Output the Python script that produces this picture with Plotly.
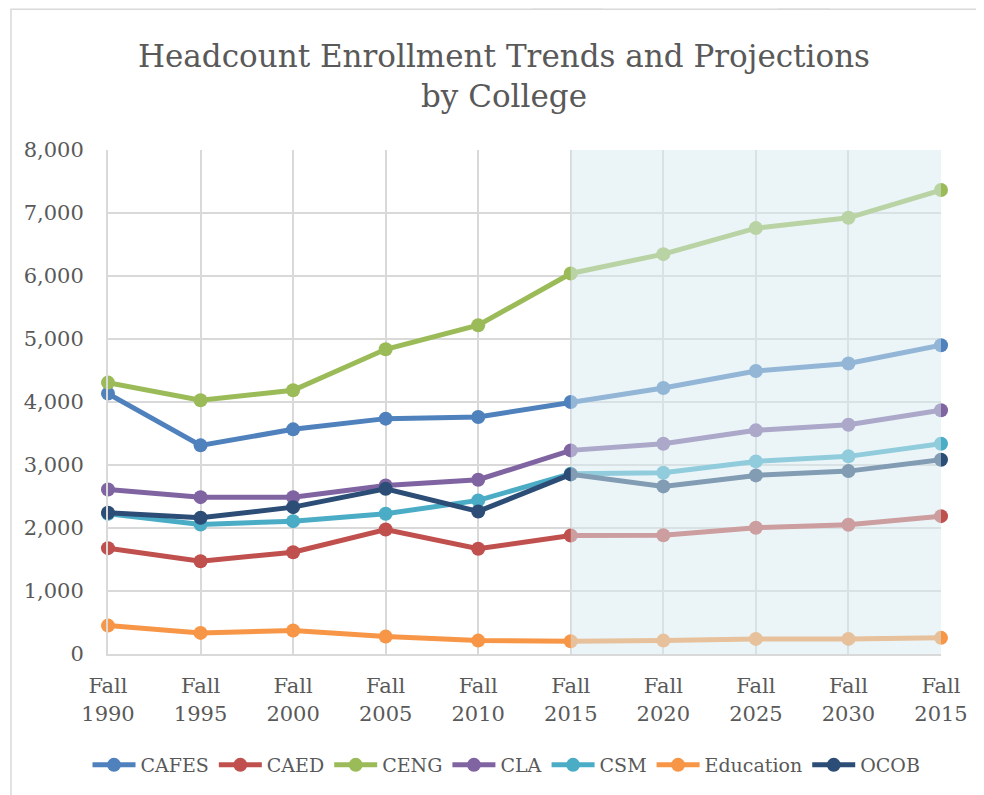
import plotly.graph_objects as go

categories = ['Fall 1990', 'Fall 1995', 'Fall 2000', 'Fall 2005', 'Fall 2010',
              'Fall 2015', 'Fall 2020', 'Fall 2025', 'Fall 2030', 'Fall 2015']

cafes = [4133, 3312, 3566, 3736, 3762, 4000, 4222, 4493, 4610, 4900]
caed = [1680, 1473, 1616, 1977, 1670, 1881, 1885, 2003, 2051, 2188]
ceng = [4308, 4027, 4186, 4837, 5219, 6040, 6347, 6760, 6924, 7364]
cla = [2612, 2490, 2490, 2676, 2766, 3232, 3338, 3550, 3640, 3868]
csm = [2226, 2056, 2109, 2226, 2438, 2862, 2878, 3057, 3137, 3338]
education = [451, 335, 372, 276, 213, 202, 213, 240, 240, 256]
ocob = [2242, 2162, 2331, 2623, 2263, 2851, 2660, 2835, 2903, 3084]

series = [('CAFES', cafes, '#4F81BD'), ('CAED', caed, '#C0504D'),
          ('CENG', ceng, '#9BBB59'), ('CLA', cla, '#8064A2'),
          ('CSM', csm, '#4BACC6'), ('Education', education, '#F79646'),
          ('OCOB', ocob, '#2C4D75')]

x = list(range(len(categories)))
ticktext = [c.replace(' ', '<br>') for c in categories]
font_fam = 'DejaVu Serif'
grey = '#595959'
W, H = 976, 787  # page body has an 8px margin

fig = go.Figure()
for name, vals, col in series:
    fig.add_trace(go.Scatter(x=x, y=vals, name=name, mode='lines+markers',
                             line=dict(color=col, width=5), cliponaxis=False,
                             marker=dict(color=col, size=14)))

# plot area in figure pixels, helpers to map pixels -> paper coords
L, R, T, B = 100, 933, 142, 646
px = lambda X: (X - 8 - L) / (R - L)
py = lambda Y: (B - (Y - 8)) / (B - T)
shapes = [
    dict(type='rect', xref='x', yref='y', x0=5, x1=9, y0=0, y1=8000, layer='above',
         fillcolor='rgba(215,236,242,0.5)', line=dict(width=0)),
    dict(type='rect', xref='paper', yref='paper', x0=px(11), x1=px(1000), y0=py(820), y1=py(9.3),
         line=dict(color='#D9D9D9', width=1.5), layer='below'),
    dict(type='path', xref='paper', yref='paper', fillcolor='#DCDCDC', line=dict(width=0),
         path=f'M {px(525)} {py(-2)} L {px(590)} {py(-2)} L {px(603)} {py(8.5)} L {px(532)} {py(8.5)} Z'),
    dict(type='path', xref='paper', yref='paper', fillcolor='#DCDCDC', line=dict(width=0),
         path=f'M {px(770)} {py(-2)} L {px(813)} {py(-2)} L {px(830)} {py(8.5)} L {px(778)} {py(8.5)} Z'),
]

fig.update_layout(
    width=W, height=H,
    margin=dict(l=L, r=W - R, t=T, b=H - B),
    paper_bgcolor='white', plot_bgcolor='white',
    font=dict(family=font_fam, color=grey),
    title=dict(text='Headcount Enrollment Trends and Projections<br>by College',
               font=dict(size=31, color=grey, family=font_fam),
               x=496 / W, xanchor='center', xref='container',
               y=1 - 59 / H, yanchor='top', yref='container'),
    showlegend=True,
    legend=dict(orientation='h', x=498.5 / W, xanchor='center', xref='container',
                y=1 - 738 / H, yanchor='top', yref='container',
                font=dict(size=19, color=grey, family=font_fam),
                itemwidth=43, tracegroupgap=0),
    shapes=shapes,
)
fig.update_xaxes(range=[0, 9], tickvals=x, ticktext=ticktext, showgrid=True,
                 gridcolor='#D9D9D9', gridwidth=2, zeroline=False, showline=True,
                 linecolor='#D9D9D9', linewidth=2, ticks='',
                 tickfont=dict(size=21, color=grey), ticklabelstandoff=12)
fig.update_yaxes(range=[0, 8000], dtick=1000, tickformat=',', showgrid=True,
                 gridcolor='#D9D9D9', gridwidth=2, zeroline=False, showline=True,
                 linecolor='#D9D9D9', linewidth=2, ticks='',
                 tickfont=dict(size=21, color=grey), ticklabelstandoff=18)

fig.write_html('out.html')
